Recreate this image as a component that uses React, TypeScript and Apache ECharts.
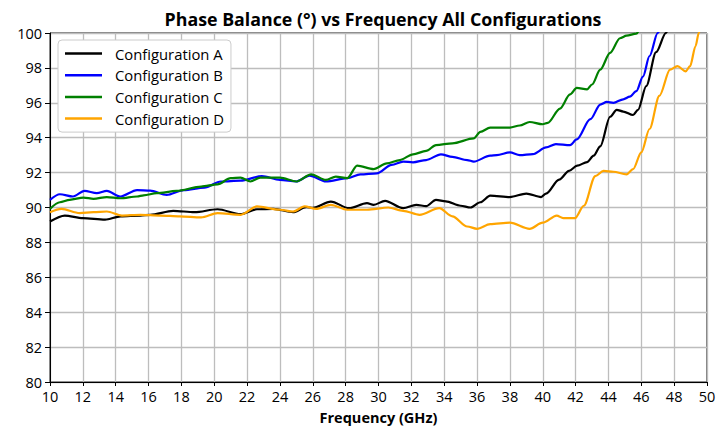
import React, { useEffect, useRef } from "react";
import * as echarts from "echarts";

const TITLE = "Phase Balance (°) vs Frequency All Configurations";
const X_NAME = "Frequency (GHz)";
const SERIES_NAMES = ["Configuration A", "Configuration B", "Configuration C", "Configuration D"];
const COLORS = ["#000000", "#0000ff", "#008000", "#ffa500"];

const freqA = [10, 10.9, 12.0, 13.35, 14.3, 15.5, 16.1, 17.5, 18.8, 20.2, 21.6, 22.6, 23.6, 24.8, 25.6, 26.0, 27.1, 28.2, 29.3, 29.7, 30.4, 31.5, 32.3, 32.9, 33.5, 34.1, 35.0, 35.6, 36.2, 36.8, 38.0, 39.0, 39.9, 40.2, 41.0, 41.6, 42.1, 42.7, 43.1, 43.5, 44.1, 44.5, 44.9, 45.5, 45.8, 46.3, 46.9, 47.5, 47.8];
const valA = [89.2, 89.54, 89.39, 89.3, 89.49, 89.54, 89.58, 89.81, 89.73, 89.9, 89.62, 89.9, 89.92, 89.73, 90.02, 89.98, 90.34, 89.96, 90.25, 90.15, 90.38, 89.96, 90.15, 90.08, 90.44, 90.35, 90.1, 90.0, 90.3, 90.68, 90.6, 90.8, 90.6, 90.8, 91.6, 92.1, 92.4, 92.6, 92.97, 93.5, 95.2, 95.6, 95.5, 95.3, 95.6, 96.96, 98.9, 100.0, 100.8];

const freqB = [10, 10.6, 11.4, 12.1, 12.85, 13.46, 14.28, 15.3, 16.1, 17.1, 18.15, 19.4, 20.4, 21.6, 22.9, 24.0, 25.0, 25.8, 26.8, 28.1, 28.9, 29.9, 30.8, 31.5, 32.1, 32.9, 33.8, 34.5, 35.4, 35.8, 36.8, 37.2, 38.0, 38.6, 39.4, 40.2, 40.8, 41.66, 42.07, 42.9, 43.5, 43.9, 44.3, 44.9, 45.3, 45.7, 46.1, 46.5, 47.0, 47.3];
const valB = [90.44, 90.76, 90.63, 90.95, 90.82, 90.95, 90.63, 91.0, 90.97, 90.72, 91.0, 91.14, 91.49, 91.54, 91.8, 91.58, 91.49, 91.83, 91.49, 91.68, 91.9, 91.96, 92.44, 92.63, 92.59, 92.72, 93.05, 92.9, 92.72, 92.63, 92.97, 93.0, 93.16, 93.0, 93.06, 93.44, 93.63, 93.57, 93.9, 95.06, 95.9, 96.05, 96.0, 96.2, 96.35, 96.67, 97.5, 98.67, 100.0, 100.7];

const freqC = [10, 10.6, 11.2, 12.04, 12.65, 13.46, 14.28, 15.3, 15.7, 16.5, 17.7, 19.2, 20.2, 21.0, 21.6, 22.2, 22.8, 24.0, 25.0, 25.9, 26.8, 27.4, 28.1, 28.7, 29.7, 30.5, 31.3, 32.1, 32.9, 33.5, 34.5, 35.8, 36.2, 36.8, 38.0, 38.6, 39.2, 40.0, 40.3, 41.05, 41.66, 42.07, 42.7, 43.0, 43.5, 44.1, 44.7, 45.1, 45.7, 45.9, 46.2];
const valC = [89.92, 90.3, 90.44, 90.57, 90.5, 90.6, 90.53, 90.63, 90.7, 90.82, 90.95, 91.2, 91.33, 91.68, 91.71, 91.49, 91.71, 91.71, 91.49, 91.9, 91.58, 91.77, 91.68, 92.4, 92.2, 92.53, 92.72, 93.05, 93.24, 93.58, 93.68, 93.96, 94.33, 94.58, 94.58, 94.7, 94.9, 94.77, 94.85, 95.67, 96.48, 96.86, 96.77, 97.05, 97.9, 98.86, 99.7, 99.85, 99.96, 100.2, 100.8];

const freqD = [10, 10.7, 11.8, 12.65, 13.46, 14.38, 15.5, 16.7, 17.9, 19.2, 20.2, 21.6, 22.6, 24.0, 24.8, 25.5, 26.2, 27.1, 28.1, 29.3, 30.6, 31.5, 32.5, 33.7, 34.5, 35.4, 36.0, 36.8, 38.0, 39.2, 40.0, 40.85, 41.25, 41.96, 42.5, 43.2, 43.7, 44.3, 45.1, 45.5, 46.0, 46.5, 47.1, 47.75, 48.2, 48.7, 48.97, 49.3, 49.5, 49.7];
const valD = [89.73, 89.92, 89.68, 89.73, 89.77, 89.54, 89.58, 89.54, 89.49, 89.43, 89.68, 89.58, 90.06, 89.87, 89.77, 90.06, 89.92, 90.15, 89.87, 89.87, 90.0, 89.81, 89.58, 89.96, 89.49, 88.91, 88.78, 89.05, 89.13, 88.78, 89.13, 89.54, 89.39, 89.39, 90.1, 91.8, 92.1, 92.05, 91.9, 92.2, 93.16, 94.5, 96.4, 97.9, 98.1, 97.8, 98.1, 99.24, 100.0, 100.8];

const X_MIN = 10, X_MAX = 50, X_STEP = 2;
const Y_MIN = 80, Y_MAX = 100, Y_STEP = 2;

const FONT = "'Open Sans', 'Noto Sans', sans-serif";

export default function App() {
  const ref = useRef<HTMLDivElement>(null);
  useEffect(() => {
    if (!ref.current) return;
    const chart = echarts.init(ref.current, undefined, { renderer: "svg" });
    const freqs = [freqA, freqB, freqC, freqD];
    const vals = [valA, valB, valC, valD];
    const series = SERIES_NAMES.map((name, i) => ({
      name,
      type: "line",
      data: freqs[i].map((f, j) => [f, vals[i][j]]),
      showSymbol: false,
      symbol: "none",
      smooth: 0.3,
      smoothMonotone: "x",
      clip: true,
      lineStyle: { color: COLORS[i], width: 2.2 },
      itemStyle: { color: COLORS[i] },
    }));
    chart.setOption({
      animation: false,
      backgroundColor: "#ffffff",
      textStyle: { fontFamily: FONT },
      title: {
        text: TITLE,
        left: 378,
        textAlign: "center",
        top: 5,
        textStyle: { fontFamily: FONT, fontSize: 17.8, fontWeight: "bold", color: "#000" },
      },
      legend: {
        orient: "vertical",
        left: 58,
        top: 40,
        data: SERIES_NAMES.map((n) => ({ name: n, icon: "rect" })),
        itemWidth: 37,
        itemHeight: 2.5,
        itemGap: 4.7,
        padding: [5, 7, 5, 7],
        backgroundColor: "#ffffff",
        borderColor: "#cccccc",
        borderWidth: 1,
        borderRadius: 4,
        textStyle: { fontFamily: FONT, fontSize: 14.8, lineHeight: 17, color: "#000", padding: [0, 0, 0, 8] },
      },
      grid: { left: 50, right: 20, top: 33, bottom: 45, show: true, borderColor: "#000", borderWidth: 1, containLabel: false },
      xAxis: {
        type: "value",
        min: X_MIN,
        max: X_MAX,
        interval: X_STEP,
        name: X_NAME,
        nameLocation: "middle",
        nameGap: 28,
        nameTextStyle: { fontFamily: FONT, fontSize: 14.5, fontWeight: "bold", color: "#000" },
        axisLine: { show: true, lineStyle: { color: "#000", width: 1 } },
        axisTick: { show: true, length: 4, lineStyle: { color: "#000" } },
        axisLabel: { fontFamily: FONT, fontSize: 14.5, color: "#000", margin: 7 },
        splitLine: { show: true, lineStyle: { color: "#bdbdbd", width: 1.3 } },
      },
      yAxis: {
        type: "value",
        min: Y_MIN,
        max: Y_MAX,
        interval: Y_STEP,
        axisLine: { show: true, lineStyle: { color: "#000", width: 1 } },
        axisTick: { show: true, length: 5, lineStyle: { color: "#000" } },
        axisLabel: { fontFamily: FONT, fontSize: 14.5, color: "#000", margin: 8 },
        splitLine: { show: true, lineStyle: { color: "#bdbdbd", width: 1.3 } },
      },
      series,
    });
    return () => chart.dispose();
  }, []);
  return <div ref={ref} style={{ width: 727, height: 430, position: "absolute", left: 0, top: 0 }} />;
}
